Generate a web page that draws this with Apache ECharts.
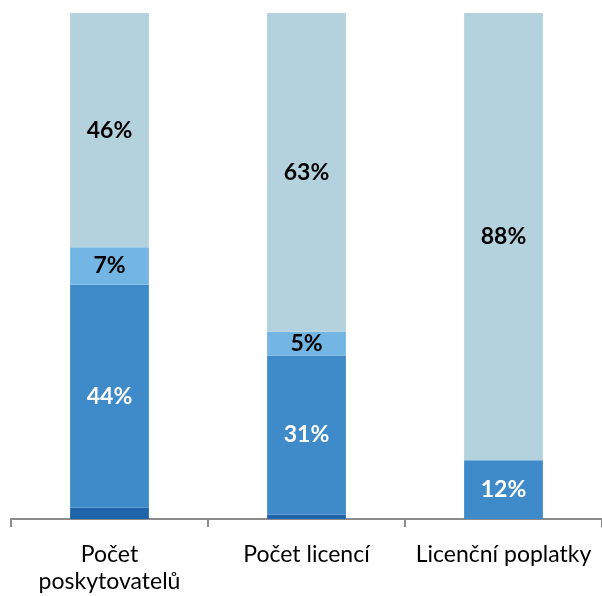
<!DOCTYPE html>
<html>
<head>
<meta charset="utf-8">
<script src="https://cdn.jsdelivr.net/npm/echarts@6/dist/echarts.min.js"></script>
<style>
  html, body { margin: 0; padding: 0; background: #fff; }
  #main { width: 602px; height: 596px; }
</style>
</head>
<body>
<div id="main"></div>
<script>
// kategorie a podíly (v %)
const categories = ['Počet\nposkytovatelů', 'Počet licencí', 'Licenční poplatky'];
const darkPart = [2.2, 0.9, 0];
const mainPart = [44.1, 31.4, 11.6];
const lightPart = [7.4, 4.7, 0];
const restPart = [46.3, 63.0, 88.4];

const myChart = echarts.init(document.getElementById('main'));

function makeSeries(data, color, labelColor, showLabel) {
  return {
    type: 'bar',
    stack: 'total',
    data: data,
    barWidth: '40%',
    itemStyle: { color: color },
    label: {
      show: showLabel,
      position: 'inside',
      color: labelColor,
      fontFamily: 'Lato',
      fontWeight: 'bold',
      fontSize: 23,
      formatter: (p) => (p.value > 0 ? Math.round(p.value) + '%' : ''),
    },
  };
}

const option = {
  animation: false,
  grid: { left: 11, right: 0, top: 13, bottom: 77 },
  xAxis: {
    type: 'category',
    data: categories,
    axisLine: { lineStyle: { color: '#8c8c8c', width: 2 } },
    axisTick: { show: true, length: 8, lineStyle: { color: '#8c8c8c', width: 2 } },
    axisLabel: {
      interval: 0,
      hideOverlap: false,
      color: '#000',
      fontFamily: 'Lato',
      fontSize: 23,
      lineHeight: 27,
      margin: 22,
    },
  },
  yAxis: {
    type: 'value',
    min: 0,
    max: 100,
    show: false,
  },
  series: [
    makeSeries(darkPart, '#1d64a8', '#fff', false),
    makeSeries(mainPart, '#3f8bc9', '#fff', true),
    makeSeries(lightPart, '#74b6e3', '#000', true),
    makeSeries(restPart, '#b3d2dd', '#000', true),
  ],
};

myChart.setOption(option);
</script>
</body>
</html>
